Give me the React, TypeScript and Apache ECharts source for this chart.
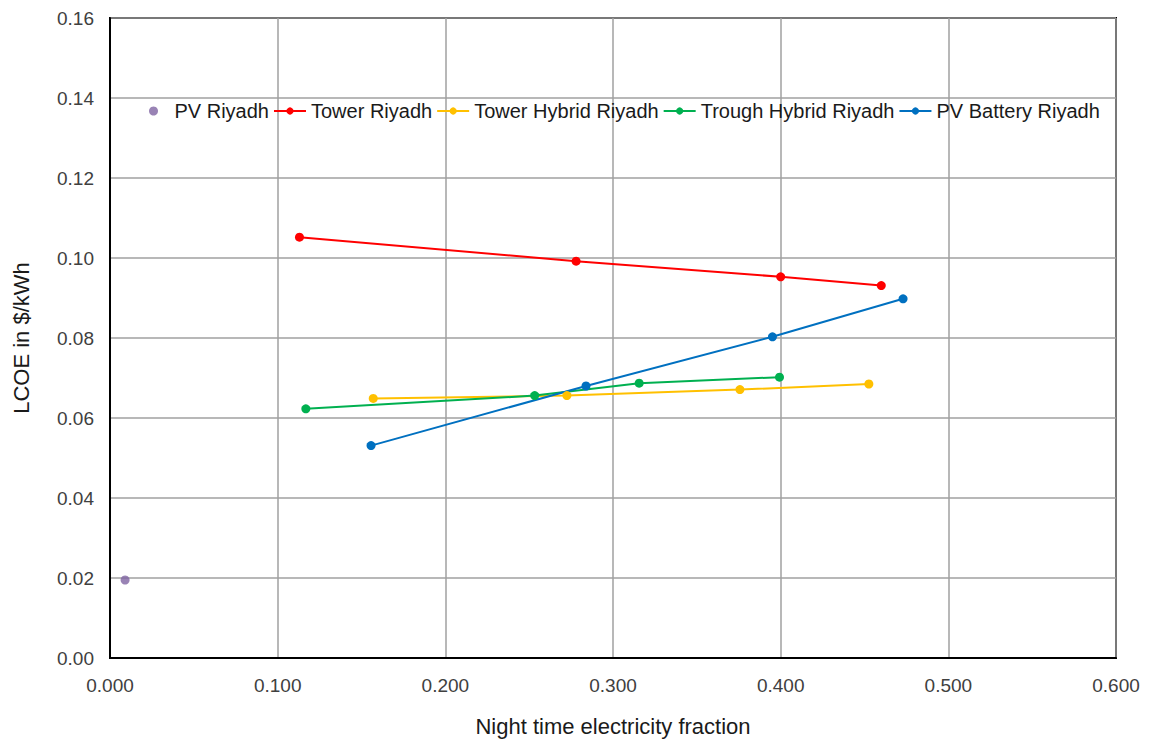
import React, { useEffect, useRef } from "react";
import * as echarts from "echarts";

const xTicks = [0, 0.1, 0.2, 0.3, 0.4, 0.5, 0.6];
const yTicks = [0, 0.02, 0.04, 0.06, 0.08, 0.1, 0.12, 0.14, 0.16];

const pvRiyadh: [number, number][] = [[0.009, 0.0195]];
const towerRiyadh: [number, number][] = [
  [0.113, 0.1052],
  [0.278, 0.0992],
  [0.4, 0.0953],
  [0.46, 0.0931],
];
const towerHybridRiyadh: [number, number][] = [
  [0.157, 0.0649],
  [0.2725, 0.0656],
  [0.3757, 0.0671],
  [0.4526, 0.0685],
];
const troughHybridRiyadh: [number, number][] = [
  [0.1168, 0.0623],
  [0.2533, 0.0656],
  [0.3156, 0.0687],
  [0.3993, 0.0702],
];
const pvBatteryRiyadh: [number, number][] = [
  [0.1557, 0.0531],
  [0.2839, 0.068],
  [0.3951, 0.0803],
  [0.473, 0.0898],
];

const FONT = "Liberation Sans, Arial, sans-serif";

export default function App() {
  const ref = useRef<HTMLDivElement>(null);
  useEffect(() => {
    if (!ref.current) return;
    const chart = echarts.init(ref.current, undefined, { renderer: "svg" });
    const lineSeries = (name: string, data: [number, number][], color: string) => ({
      name,
      type: "line",
      data,
      symbol: "circle",
      symbolSize: 9,
      itemStyle: { color },
      lineStyle: { color, width: 2 },
    });
    chart.setOption({
      animation: false,
      backgroundColor: "#fff",
      textStyle: { fontFamily: FONT },
      grid: {
        left: 110,
        right: 33,
        top: 18,
        bottom: 83,
        show: true,
        borderColor: "#000",
        borderWidth: 2,
        containLabel: false,
      },
      legend: {
        left: 144,
        top: 96,
        itemWidth: 32,
        itemHeight: 9,
        itemGap: 4,
        textStyle: { fontFamily: FONT, fontSize: 20, color: "#1a1a1a" },
        data: [
          { name: "PV Riyadh", icon: "circle" },
          "Tower Riyadh",
          "Tower Hybrid Riyadh",
          "Trough Hybrid Riyadh",
          "PV Battery Riyadh",
        ],
      },
      xAxis: {
        type: "value",
        min: xTicks[0],
        max: xTicks[xTicks.length - 1],
        interval: 0.1,
        name: "Night time electricity fraction",
        nameLocation: "middle",
        nameGap: 57,
        nameTextStyle: { fontFamily: FONT, fontSize: 22, color: "#1a1a1a" },
        axisLine: { show: true, lineStyle: { color: "#000", width: 2 } },
        axisTick: { show: false },
        axisLabel: {
          fontFamily: FONT,
          fontSize: 19,
          color: "#404040",
          margin: 18,
          formatter: (v: number) => v.toFixed(3),
        },
        splitLine: { show: true, lineStyle: { color: "#a0a0a0", width: 1.5 } },
      },
      yAxis: {
        type: "value",
        min: yTicks[0],
        max: yTicks[yTicks.length - 1],
        interval: 0.02,
        name: "LCOE in $/kWh",
        nameLocation: "middle",
        nameGap: 78,
        nameTextStyle: { fontFamily: FONT, fontSize: 22, color: "#1a1a1a" },
        axisLine: { show: true, lineStyle: { color: "#000", width: 2 } },
        axisTick: { show: false },
        axisLabel: {
          fontFamily: FONT,
          fontSize: 19,
          color: "#404040",
          margin: 16,
          formatter: (v: number) => v.toFixed(2),
        },
        splitLine: { show: true, lineStyle: { color: "#a0a0a0", width: 1.5 } },
      },
      series: [
        {
          name: "PV Riyadh",
          type: "scatter",
          data: pvRiyadh,
          symbol: "circle",
          symbolSize: 9,
          itemStyle: { color: "#8064A2" },
        },
        lineSeries("Tower Riyadh", towerRiyadh, "#FF0000"),
        lineSeries("Tower Hybrid Riyadh", towerHybridRiyadh, "#FFC000"),
        lineSeries("Trough Hybrid Riyadh", troughHybridRiyadh, "#00B050"),
        lineSeries("PV Battery Riyadh", pvBatteryRiyadh, "#0070C0"),
      ],
    });
    return () => chart.dispose();
  }, []);
  return (
    <div
      ref={ref}
      style={{ position: "absolute", left: 0, top: 0, width: 1149, height: 742 }}
    />
  );
}
